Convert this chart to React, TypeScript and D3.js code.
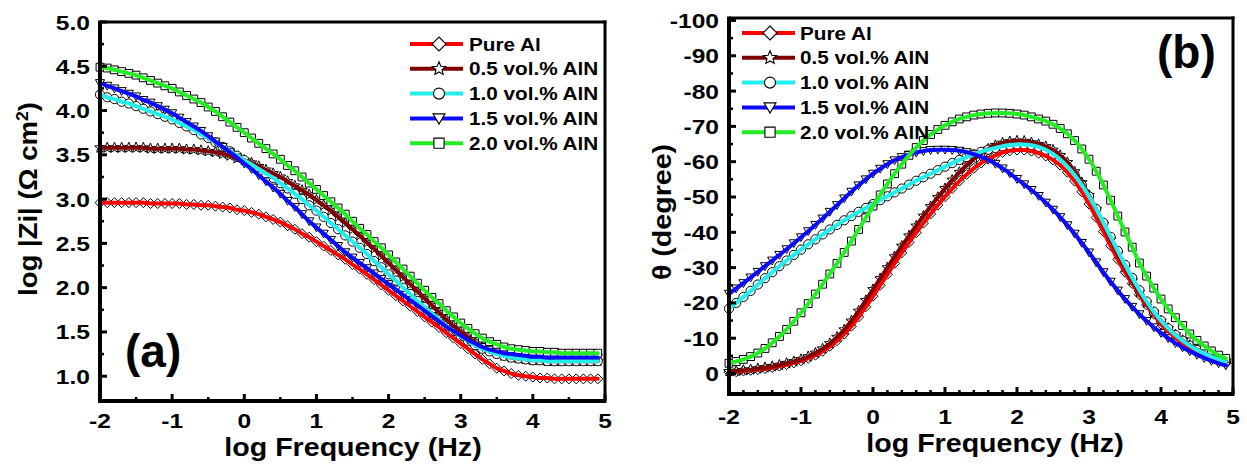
import React from "react";
import * as d3 from "d3";

// ---------------- DATA ----------------
const LOG_F = [
  -2.0, -1.9, -1.8, -1.7, -1.6, -1.5, -1.4, -1.3, -1.2, -1.1,
  -1.0, -0.9, -0.8, -0.7, -0.6, -0.5, -0.4, -0.3, -0.2, -0.1,
  0.0, 0.1, 0.2, 0.3, 0.4, 0.5, 0.6, 0.7, 0.8, 0.9,
  1.0, 1.1, 1.2, 1.3, 1.4, 1.5, 1.6, 1.7, 1.8, 1.9,
  2.0, 2.1, 2.2, 2.3, 2.4, 2.5, 2.6, 2.7, 2.8, 2.9,
  3.0, 3.1, 3.2, 3.3, 3.4, 3.5, 3.6, 3.7, 3.8, 3.9,
  4.0, 4.1, 4.2, 4.3, 4.4, 4.5, 4.6, 4.7, 4.8, 4.9,
];

const SERIES_NAMES = ["Pure Al", "0.5 vol.% AlN", "1.0 vol.% AlN", "1.5 vol.% AlN", "2.0 vol.% AlN"];
const SERIES_COLORS = ["#ff0000", "#800000", "#22eeee", "#0a0aff", "#22ee22"];
const SERIES_MARKERS = ["diamond", "star", "circle", "triangle", "square"];

// log |Z| (Ohm cm^2)
const Z_PURE = [
  2.96, 2.96, 2.96, 2.96, 2.96, 2.96, 2.96, 2.95, 2.95, 2.95,
  2.95, 2.95, 2.94, 2.94, 2.93, 2.93, 2.92, 2.91, 2.90, 2.88,
  2.87, 2.85, 2.83, 2.80, 2.77, 2.74, 2.70, 2.66, 2.61, 2.57,
  2.52, 2.47, 2.42, 2.37, 2.32, 2.26, 2.21, 2.15, 2.09, 2.03,
  1.97, 1.91, 1.85, 1.79, 1.73, 1.67, 1.61, 1.55, 1.49, 1.43,
  1.37, 1.31, 1.25, 1.19, 1.14, 1.09, 1.06, 1.03, 1.01, 1.00,
  0.99, 0.98, 0.98, 0.97, 0.97, 0.97, 0.97, 0.97, 0.97, 0.97,
];
const Z_05 = [
  3.58, 3.58, 3.58, 3.58, 3.58, 3.58, 3.58, 3.57, 3.57, 3.57,
  3.57, 3.57, 3.56, 3.56, 3.55, 3.54, 3.53, 3.51, 3.49, 3.46,
  3.44, 3.41, 3.37, 3.33, 3.29, 3.25, 3.20, 3.15, 3.10, 3.05,
  2.99, 2.93, 2.87, 2.80, 2.73, 2.66, 2.59, 2.51, 2.44, 2.36,
  2.28, 2.20, 2.12, 2.04, 1.96, 1.88, 1.80, 1.72, 1.64, 1.57,
  1.50, 1.44, 1.38, 1.33, 1.29, 1.26, 1.23, 1.21, 1.20, 1.19,
  1.18, 1.18, 1.17, 1.17, 1.17, 1.17, 1.17, 1.17, 1.17, 1.17,
];
const Z_10 = [
  4.18, 4.15, 4.13, 4.10, 4.08, 4.05, 4.02, 3.99, 3.96, 3.93,
  3.90, 3.86, 3.82, 3.78, 3.73, 3.69, 3.64, 3.59, 3.54, 3.49,
  3.44, 3.39, 3.34, 3.29, 3.24, 3.18, 3.12, 3.06, 3.00, 2.93,
  2.87, 2.80, 2.73, 2.66, 2.59, 2.52, 2.45, 2.38, 2.30, 2.23,
  2.15, 2.08, 2.00, 1.93, 1.85, 1.78, 1.71, 1.64, 1.57, 1.51,
  1.45, 1.40, 1.35, 1.31, 1.28, 1.25, 1.23, 1.21, 1.20, 1.19,
  1.18, 1.18, 1.17, 1.17, 1.17, 1.17, 1.17, 1.17, 1.17, 1.17,
];
const Z_15 = [
  4.31, 4.28, 4.25, 4.22, 4.19, 4.16, 4.12, 4.09, 4.05, 4.01,
  3.97, 3.92, 3.87, 3.82, 3.77, 3.71, 3.65, 3.59, 3.53, 3.47,
  3.40, 3.34, 3.27, 3.20, 3.13, 3.06, 2.98, 2.91, 2.83, 2.75,
  2.68, 2.61, 2.54, 2.47, 2.40, 2.34, 2.28, 2.22, 2.16, 2.10,
  2.04, 1.98, 1.92, 1.86, 1.80, 1.74, 1.68, 1.62, 1.56, 1.51,
  1.46, 1.41, 1.37, 1.33, 1.30, 1.28, 1.26, 1.25, 1.24, 1.23,
  1.22, 1.22, 1.21, 1.21, 1.21, 1.21, 1.21, 1.21, 1.21, 1.21,
];
const Z_20 = [
  4.49, 4.48, 4.46, 4.44, 4.42, 4.40, 4.37, 4.34, 4.31, 4.28,
  4.25, 4.21, 4.17, 4.13, 4.09, 4.04, 3.99, 3.93, 3.87, 3.81,
  3.75, 3.69, 3.63, 3.57, 3.51, 3.45, 3.38, 3.32, 3.25, 3.18,
  3.11, 3.04, 2.97, 2.90, 2.83, 2.75, 2.67, 2.60, 2.52, 2.45,
  2.37, 2.29, 2.21, 2.13, 2.05, 1.97, 1.89, 1.82, 1.74, 1.67,
  1.60, 1.54, 1.48, 1.43, 1.39, 1.36, 1.33, 1.31, 1.30, 1.29,
  1.28, 1.28, 1.27, 1.27, 1.26, 1.26, 1.26, 1.26, 1.26, 1.26,
];

// phase angle theta (degree)
const P_PURE = [
  -0.4, -0.5, -0.7, -0.9, -1.1, -1.4, -1.7, -2.1, -2.5, -3.0,
  -3.6, -4.3, -5.2, -6.3, -7.7, -9.3, -11.2, -13.4, -16.0, -18.9,
  -21.9, -25.0, -28.1, -31.2, -34.2, -37.1, -39.9, -42.6, -45.2, -47.7,
  -50.1, -52.4, -54.5, -56.4, -58.1, -59.6, -60.8, -61.8, -62.6, -63.1,
  -63.3, -63.3, -63.0, -62.4, -61.6, -60.5, -59.0, -57.0, -54.5, -51.5,
  -48.0, -44.2, -40.2, -36.2, -32.3, -28.7, -25.5, -22.3, -19.4, -16.8,
  -14.0, -12.0, -10.2, -8.6, -7.2, -6.0, -5.0, -4.2, -3.5, -2.9,
];
const P_05 = [
  -0.6, -0.7, -0.9, -1.1, -1.4, -1.7, -2.0, -2.4, -2.9, -3.4,
  -4.0, -4.8, -5.8, -7.0, -8.5, -10.3, -12.4, -14.9, -17.7, -20.7,
  -23.8, -26.9, -30.0, -33.1, -36.1, -39.0, -41.8, -44.6, -47.3, -49.9,
  -52.4, -54.8, -57.0, -59.0, -60.8, -62.3, -63.6, -64.6, -65.3, -65.7,
  -65.9, -65.8, -65.4, -64.9, -64.3, -63.3, -61.8, -59.8, -57.2, -54.1,
  -50.5, -46.5, -42.3, -38.0, -33.9, -30.0, -26.3, -23.0, -20.0, -17.3,
  -14.9, -12.8, -11.0, -9.4, -8.0, -6.8, -5.8, -4.9, -4.2, -3.6,
];
const P_10 = [
  -18.4, -20.0, -21.7, -23.4, -25.2, -27.0, -28.7, -30.4, -32.0, -33.6,
  -35.1, -36.6, -38.0, -39.4, -40.8, -42.1, -43.4, -44.6, -45.8, -46.9,
  -48.0, -49.1, -50.2, -51.3, -52.4, -53.5, -54.6, -55.6, -56.6, -57.6,
  -58.6, -59.6, -60.5, -61.3, -62.1, -62.8, -63.4, -63.9, -64.4, -64.7,
  -64.9, -64.9, -64.7, -64.2, -63.4, -62.2, -60.6, -58.6, -56.2, -53.4,
  -50.2, -46.6, -42.7, -38.7, -34.7, -30.8, -27.1, -23.6, -20.4, -17.5,
  -15.0, -12.8, -10.9, -9.3, -7.9, -6.7, -5.7, -4.8, -4.0, -3.3,
];
const P_15 = [
  -22.6, -24.1, -25.6, -27.2, -28.8, -30.4, -32.0, -33.6, -35.2, -36.9,
  -38.6, -40.3, -42.1, -43.9, -45.8, -47.7, -49.6, -51.5, -53.3, -55.0,
  -56.6, -58.0, -59.3, -60.4, -61.3, -62.0, -62.6, -63.0, -63.3, -63.4,
  -63.4, -63.3, -63.1, -62.7, -62.1, -61.4, -60.5, -59.4, -58.1, -56.7,
  -55.1, -53.6, -52.0, -50.3, -48.4, -46.4, -44.3, -42.0, -39.6, -37.0,
  -34.3, -31.5, -28.7, -26.0, -23.5, -21.1, -18.9, -16.8, -14.9, -13.1,
  -11.5, -10.0, -8.6, -7.4, -6.3, -5.3, -4.4, -3.6, -2.9, -2.3,
];
const P_20 = [
  -2.9, -3.4, -4.0, -4.8, -5.8, -7.1, -8.7, -10.5, -12.5, -14.8,
  -17.2, -19.8, -22.5, -25.3, -28.2, -31.2, -34.3, -37.5, -40.8, -44.1,
  -47.4, -50.6, -53.7, -56.6, -59.3, -61.8, -64.0, -66.0, -67.7, -69.1,
  -70.3, -71.3, -72.1, -72.7, -73.2, -73.5, -73.7, -73.8, -73.8, -73.7,
  -73.5, -73.2, -72.7, -72.1, -71.5, -70.6, -69.4, -67.9, -66.0, -63.6,
  -60.7, -57.3, -53.4, -49.1, -44.6, -40.1, -35.8, -31.3, -27.6, -24.2,
  -21.1, -18.3, -15.8, -13.6, -11.2, -9.4, -7.8, -6.4, -5.2, -4.3,
];

const X_TICKS = [-2, -1, 0, 1, 2, 3, 4, 5];
const Z_TICKS = [1.0, 1.5, 2.0, 2.5, 3.0, 3.5, 4.0, 4.5, 5.0];
const P_TICKS = [0, -10, -20, -30, -40, -50, -60, -70, -80, -90, -100];

// ---------------- helpers ----------------
const FONT = '"Liberation Sans", Arial, Helvetica, sans-serif';

function markerPath(kind: string, r: number): string {
  switch (kind) {
    case "diamond":
      return `M0,${-r}L${r},0L0,${r}L${-r},0Z`;
    case "star": {
      const pts: string[] = [];
      for (let i = 0; i < 10; i++) {
        const rr = i % 2 === 0 ? r : r * 0.45;
        const a = -Math.PI / 2 + (i * Math.PI) / 5;
        pts.push(`${(rr * Math.cos(a)).toFixed(2)},${(rr * Math.sin(a)).toFixed(2)}`);
      }
      return "M" + pts.join("L") + "Z";
    }
    case "circle":
      return `M${r},0A${r},${r},0,1,1,${-r},0A${r},${r},0,1,1,${r},0Z`;
    case "triangle":
      return `M${-r},${-r * 0.75}L${r},${-r * 0.75}L0,${r * 0.95}Z`;
    case "square":
    default: {
      const s = r * 0.85;
      return `M${-s},${-s}H${s}V${s}H${-s}Z`;
    }
  }
}

function Txt(props: {
  x: number; y: number; size: number; anchor?: string; rot?: number; sx?: number; children: any;
}) {
  const { x, y, size, anchor = "middle", rot = 0, sx = 1.12, children } = props;
  return (
    <text
      transform={`translate(${x},${y}) rotate(${rot}) scale(${sx},1)`}
      fontSize={size}
      fontWeight="bold"
      fontFamily={FONT}
      textAnchor={anchor as any}
      fill="#000"
    >
      {children}
    </text>
  );
}

type PanelProps = {
  x0: number; x1: number; y0: number; y1: number;
  yDomain: [number, number]; // [bottom, top]
  yTicks: number[]; yFmt: (v: number) => string;
  xMinorStep: number; xLabelBase: number;
  data: number[][];
  legend: { lx0: number; lx1: number; mx: number; tx: number; ty0: number; dy: number };
};

function Panel(p: PanelProps) {
  const xs = d3.scaleLinear().domain([-2, 5]).range([p.x0, p.x1]);
  const ys = d3.scaleLinear().domain(p.yDomain).range([p.y1, p.y0]);
  const line = d3
    .line<number>()
    .x((_, i) => xs(LOG_F[i]))
    .y((d) => ys(d))
    .curve(d3.curveCatmullRom);

  const xMinor: number[] = [];
  for (let v = -2; v <= 5.0001; v += p.xMinorStep) {
    const r = Math.round(v * 1000) / 1000;
    if (Math.abs(r - Math.round(r)) > 1e-6) xMinor.push(r);
  }
  const lo = Math.min(p.yDomain[0], p.yDomain[1]);
  const hi = Math.max(p.yDomain[0], p.yDomain[1]);
  const yMinor: number[] = [];
  const step = p.yTicks[1] - p.yTicks[0];
  p.yTicks.forEach((t) => {
    const m = t + step / 2;
    if (m > lo + 0.02 * (hi - lo) && m < hi) yMinor.push(m);
  });

  return (
    <g>
      {/* markers (data) */}
      {p.data.map((vals, si) => (
        <g key={"m" + si}>
          {vals.map((v, i) => (
            <path
              key={i}
              d={markerPath(SERIES_MARKERS[si], SERIES_MARKERS[si] === "star" ? 5.6 : SERIES_MARKERS[si] === "diamond" ? 5 : 4.6)}
              transform={`translate(${xs(LOG_F[i])},${ys(v)})`}
              fill="#fff"
              stroke="#000"
              strokeWidth={1}
            />
          ))}
        </g>
      ))}
      {/* fitted lines */}
      {p.data.map((vals, si) => (
        <path
          key={"l" + si}
          d={line(vals) || ""}
          fill="none"
          stroke={SERIES_COLORS[si]}
          strokeWidth={4}
          strokeLinejoin="round"
          strokeLinecap="round"
        />
      ))}

      {/* frame */}
      <line x1={p.x0} x2={p.x1 + 1.5} y1={p.y0} y2={p.y0} stroke="#000" strokeWidth={3} />
      <line x1={p.x1} x2={p.x1} y1={p.y0 - 1.5} y2={p.y1} stroke="#000" strokeWidth={3} />
      <line x1={p.x0} x2={p.x0} y1={p.y0 - 1.5} y2={p.y1 + 2} stroke="#000" strokeWidth={4} />
      <line x1={p.x0 - 2} x2={p.x1 + 1.5} y1={p.y1} y2={p.y1} stroke="#000" strokeWidth={4} />

      {/* x ticks */}
      {X_TICKS.map((t) => (
        <g key={"xt" + t}>
          <line x1={xs(t)} x2={xs(t)} y1={p.y1} y2={p.y1 - 7} stroke="#000" strokeWidth={3} />
          <Txt x={xs(t)} y={p.xLabelBase} size={21} sx={1.17}>{String(t)}</Txt>
        </g>
      ))}
      {xMinor.map((t) => (
        <line key={"xm" + t} x1={xs(t)} x2={xs(t)} y1={p.y1} y2={p.y1 - 4} stroke="#000" strokeWidth={2.5} />
      ))}
      {/* y ticks */}
      {p.yTicks.map((t) => (
        <g key={"yt" + t}>
          <line x1={p.x0} x2={p.x0 + 7} y1={ys(t)} y2={ys(t)} stroke="#000" strokeWidth={3} />
          <Txt x={p.x0 - 10} y={ys(t) + 7.5} size={21} sx={1.17} anchor="end">{p.yFmt(t)}</Txt>
        </g>
      ))}
      {yMinor.map((t) => (
        <line key={"ym" + t} x1={p.x0} x2={p.x0 + 4} y1={ys(t)} y2={ys(t)} stroke="#000" strokeWidth={2.5} />
      ))}

      {/* legend */}
      {SERIES_NAMES.map((name, si) => {
        const y = p.legend.ty0 + si * p.legend.dy;
        const r = SERIES_MARKERS[si] === "diamond" ? 7 : SERIES_MARKERS[si] === "star" ? 7 : SERIES_MARKERS[si] === "circle" ? 5.5 : 6;
        return (
          <g key={"lg" + si}>
            <line x1={p.legend.lx0} x2={p.legend.lx1} y1={y} y2={y} stroke={SERIES_COLORS[si]} strokeWidth={4} />
            <path d={markerPath(SERIES_MARKERS[si], r)} transform={`translate(${p.legend.mx},${y})`} fill="#fff" stroke="#000" strokeWidth={1.1} />
            <Txt x={p.legend.tx} y={y + 6.5} size={18.5} anchor="start">{name}</Txt>
          </g>
        );
      })}
    </g>
  );
}

export default function App() {
  return (
    <svg width={1247} height={464} viewBox="0 0 1247 464" style={{ position: "absolute", left: 0, top: 0, background: "#fff" }}>
      <rect x={0} y={0} width={1247} height={464} fill="#fff" />
      <Panel
        x0={100} x1={605} y0={22} y1={401}
        yDomain={[0.72, 5.0]}
        yTicks={Z_TICKS} yFmt={(v) => v.toFixed(1)}
        xMinorStep={0.5} xLabelBase={428}
        data={[Z_PURE, Z_05, Z_10, Z_15, Z_20]}
        legend={{ lx0: 410, lx1: 463, mx: 439, tx: 469, ty0: 44, dy: 24.8 }}
      />
      <Panel
        x0={729} x1={1233} y0={18} y1={394}
        yDomain={[5.8, -100.7]}
        yTicks={P_TICKS} yFmt={(v) => String(v)}
        xMinorStep={0.2} xLabelBase={424}
        data={[P_PURE, P_05, P_10, P_15, P_20]}
        legend={{ lx0: 742, lx1: 795, mx: 770, tx: 800, ty0: 33, dy: 24.8 }}
      />

      {/* axis titles */}
      <Txt x={353} y={456} size={26} sx={1.1}>log Frequency (Hz)</Txt>
      <Txt x={995} y={452} size={26} sx={1.1}>log Frequency (Hz)</Txt>
      <Txt x={37} y={199} size={25} rot={-90} sx={1.1}>
        log |Zi| (Ω cm<tspan dy={-9} fontSize={16}>2</tspan><tspan dy={9}>)</tspan>
      </Txt>
      <Txt x={671} y={212} size={26} rot={-90} sx={1.1}>θ (degree)</Txt>

      {/* panel labels */}
      <Txt x={125} y={367} size={46} anchor="start" sx={1.0}>(a)</Txt>
      <Txt x={1157} y={68} size={46} anchor="start" sx={1.0}>(b)</Txt>
    </svg>
  );
}
